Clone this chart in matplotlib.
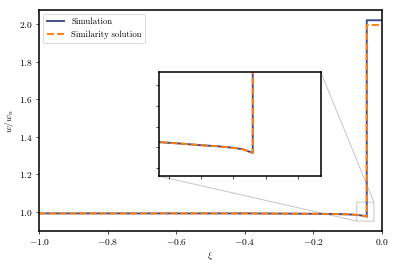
import numpy as np
import matplotlib
matplotlib.use("Agg")
import matplotlib.pyplot as plt

plt.rcParams['font.family'] = 'serif'
plt.rcParams['font.serif'] = ['cmr10']
plt.rcParams['mathtext.fontset'] = 'cm'
plt.rcParams['axes.formatter.use_mathtext'] = True
plt.rcParams['axes.unicode_minus'] = True

# data
xi = [-1.0, -0.8, -0.6, -0.4, -0.3, -0.2, -0.15, -0.1, -0.073, -0.066, -0.06, -0.055, -0.05, -0.047, -0.044, -0.044, 0.0]
w_sim = [0.993, 0.993, 0.993, 0.993, 0.992, 0.991, 0.990, 0.988, 0.985, 0.9835, 0.982, 0.981, 0.9795, 0.978, 0.9745, 2.02, 2.02]
w_sim_self = [0.993, 0.993, 0.993, 0.993, 0.992, 0.991, 0.990, 0.988, 0.985, 0.9835, 0.982, 0.981, 0.9795, 0.978, 0.9745, 1.995, 1.995]

sim_color = '#3b4c8c'
ss_color = '#ff7f0e'

fig = plt.figure(figsize=(6.4, 4.267), dpi=62.34)
ax = fig.add_axes([0.098, 0.132, 0.859, 0.830])

ax.plot(xi, w_sim, color=sim_color, lw=2.2, label='Simulation')
ax.plot(xi, w_sim_self, color=ss_color, lw=2.2, ls='--', label='Similarity solution')
ax.set_xlim(-1.0, 0.0)
ax.set_ylim(0.9, 2.074)
ax.set_xlabel(r'$\xi$', fontsize=11)
ax.set_ylabel(r'$w/w_n$', fontsize=11)
ax.tick_params(labelsize=11)
for s in ax.spines.values():
    s.set_linewidth(1.8)
ax.legend(loc='upper left', fontsize=10, handlelength=2.0)

# zoomed inset
axins = fig.add_axes([0.398, 0.338, 0.406, 0.391])
axins.plot(xi, w_sim, color=sim_color, lw=2.2)
axins.plot(xi, w_sim_self, color=ss_color, lw=2.2, ls='--')
axins.set_xlim(-0.073, -0.023)
axins.set_ylim(0.952, 1.053)
axins.set_xticklabels([])
axins.set_yticklabels([])
for s in axins.spines.values():
    s.set_linewidth(1.8)
ax.indicate_inset_zoom(axins, edgecolor='0.5', alpha=0.5)

fig.savefig('out.png', dpi=62.34)
